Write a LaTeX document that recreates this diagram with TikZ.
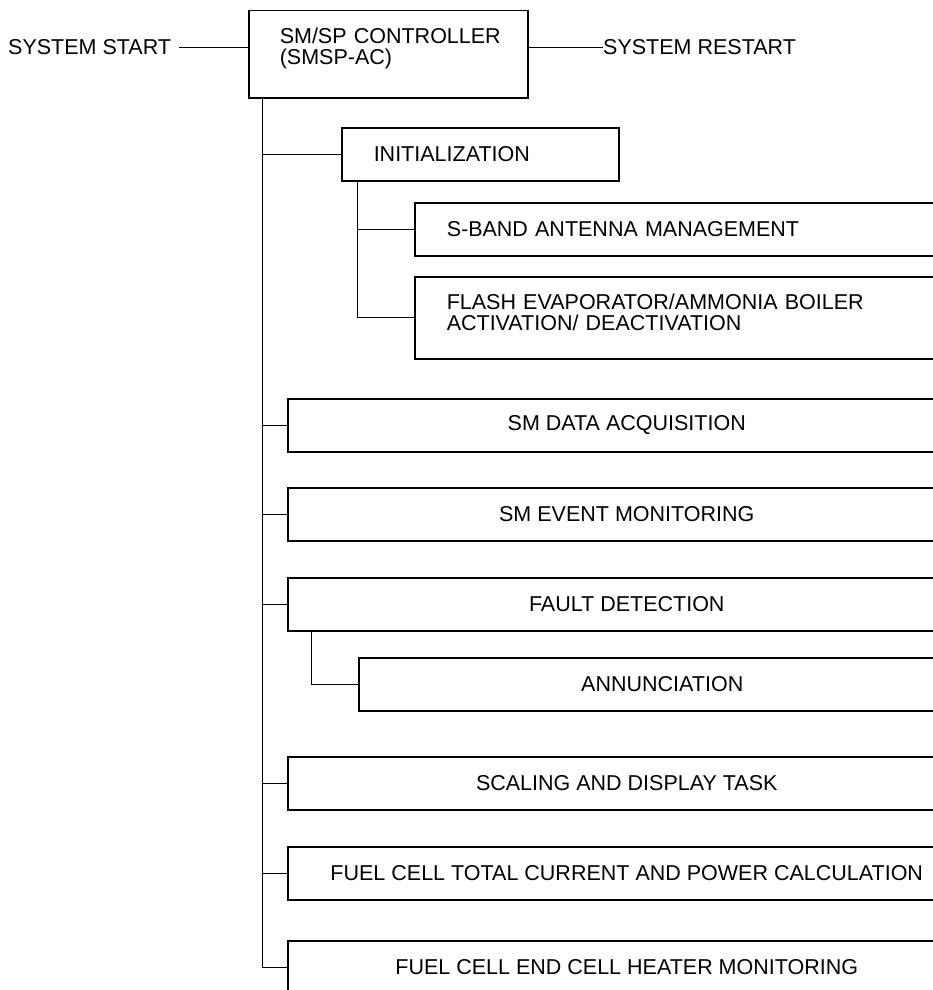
\documentclass[tikz,border=0pt]{standalone}
\usepackage{fontspec}
\setmainfont{Liberation Sans}
\usepackage{tikz}
\usetikzlibrary{positioning}
\newcommand{\dgmfont}{\fontsize{21.5pt}{21pt}\selectfont}

\begin{document}
\begin{tikzpicture}[
  x=1pt, y=-1pt,
  blk/.style={rectangle, draw, line width=1.5pt, anchor=north west,
              inner ysep=0pt, font=\dgmfont},
  lblk/.style={blk, align=left, inner xsep=32pt, text width=#1},
  wblk/.style={blk, inner xsep=0pt, minimum width=678pt, minimum height=53pt},
  lbl/.style={font=\dgmfont, inner sep=0pt, anchor=west},
  link/.style={line width=0.8pt},
]
\useasboundingbox (0,0) rectangle (933,990);

% ---- Controller (top) ----
\node[blk, align=left, inner xsep=31pt, text width=217pt, minimum height=87pt,
      text depth=37pt] (ctrl) at (248,10) {\mbox{SM/SP CONTROLLER}\\(SMSP-AC)};
\node[lbl] (start) at (8,47) {SYSTEM START};
\node[lbl] (restart) at (603,47) {SYSTEM RESTART};
\draw[link] ([xshift=8pt]start.east) -- (start.east -| ctrl.west);
\draw[link] (restart.west -| ctrl.east) -- (restart.west);
\coordinate (trunk) at (262,0);

% ---- Initialization group ----
\node[lblk=213pt, minimum height=53pt] (init) at (341,127) {INITIALIZATION};
\node[lblk=496pt, minimum height=53pt] (sband) at (414,202) {S-BAND ANTENNA MANAGEMENT};
\node[lblk=496pt, minimum height=82pt, text depth=32pt] (flash) at (414,276)
  {FLASH EVAPORATOR/AMMONIA BOILER\\ACTIVATION/ DEACTIVATION};
\coordinate (initsub) at (357,0);
\draw[link] (init.south -| initsub) |- (flash.west);
\draw[link] (sband.west -| initsub) -- (sband.west);

% ---- Main task boxes ----
\node[wblk] (acq)   at (287,398) {SM DATA ACQUISITION};
\node[wblk] (event) at (287,487) {SM EVENT MONITORING};
\node[wblk] (fault) at (287,577) {FAULT DETECTION};
\node[wblk, minimum width=607pt] (annun) at (358,657) {ANNUNCIATION};
\node[wblk] (scale) at (287,756) {SCALING AND DISPLAY TASK};
\node[wblk] (fctot) at (287,846) {FUEL CELL TOTAL CURRENT AND POWER CALCULATION};
\node[wblk] (fcend) at (287,940) {FUEL CELL END CELL HEATER MONITORING};
\coordinate (faultsub) at (311,0);
\draw[link] (fault.south -| faultsub) |- (annun.west);

% ---- Trunk ----
\draw[link] (ctrl.south -| trunk) -- (fcend.west -| trunk);
\foreach \b in {init,acq,event,fault,scale,fctot,fcend}
  \draw[link] (\b.west -| trunk) -- (\b.west);

\end{tikzpicture}
\end{document}
